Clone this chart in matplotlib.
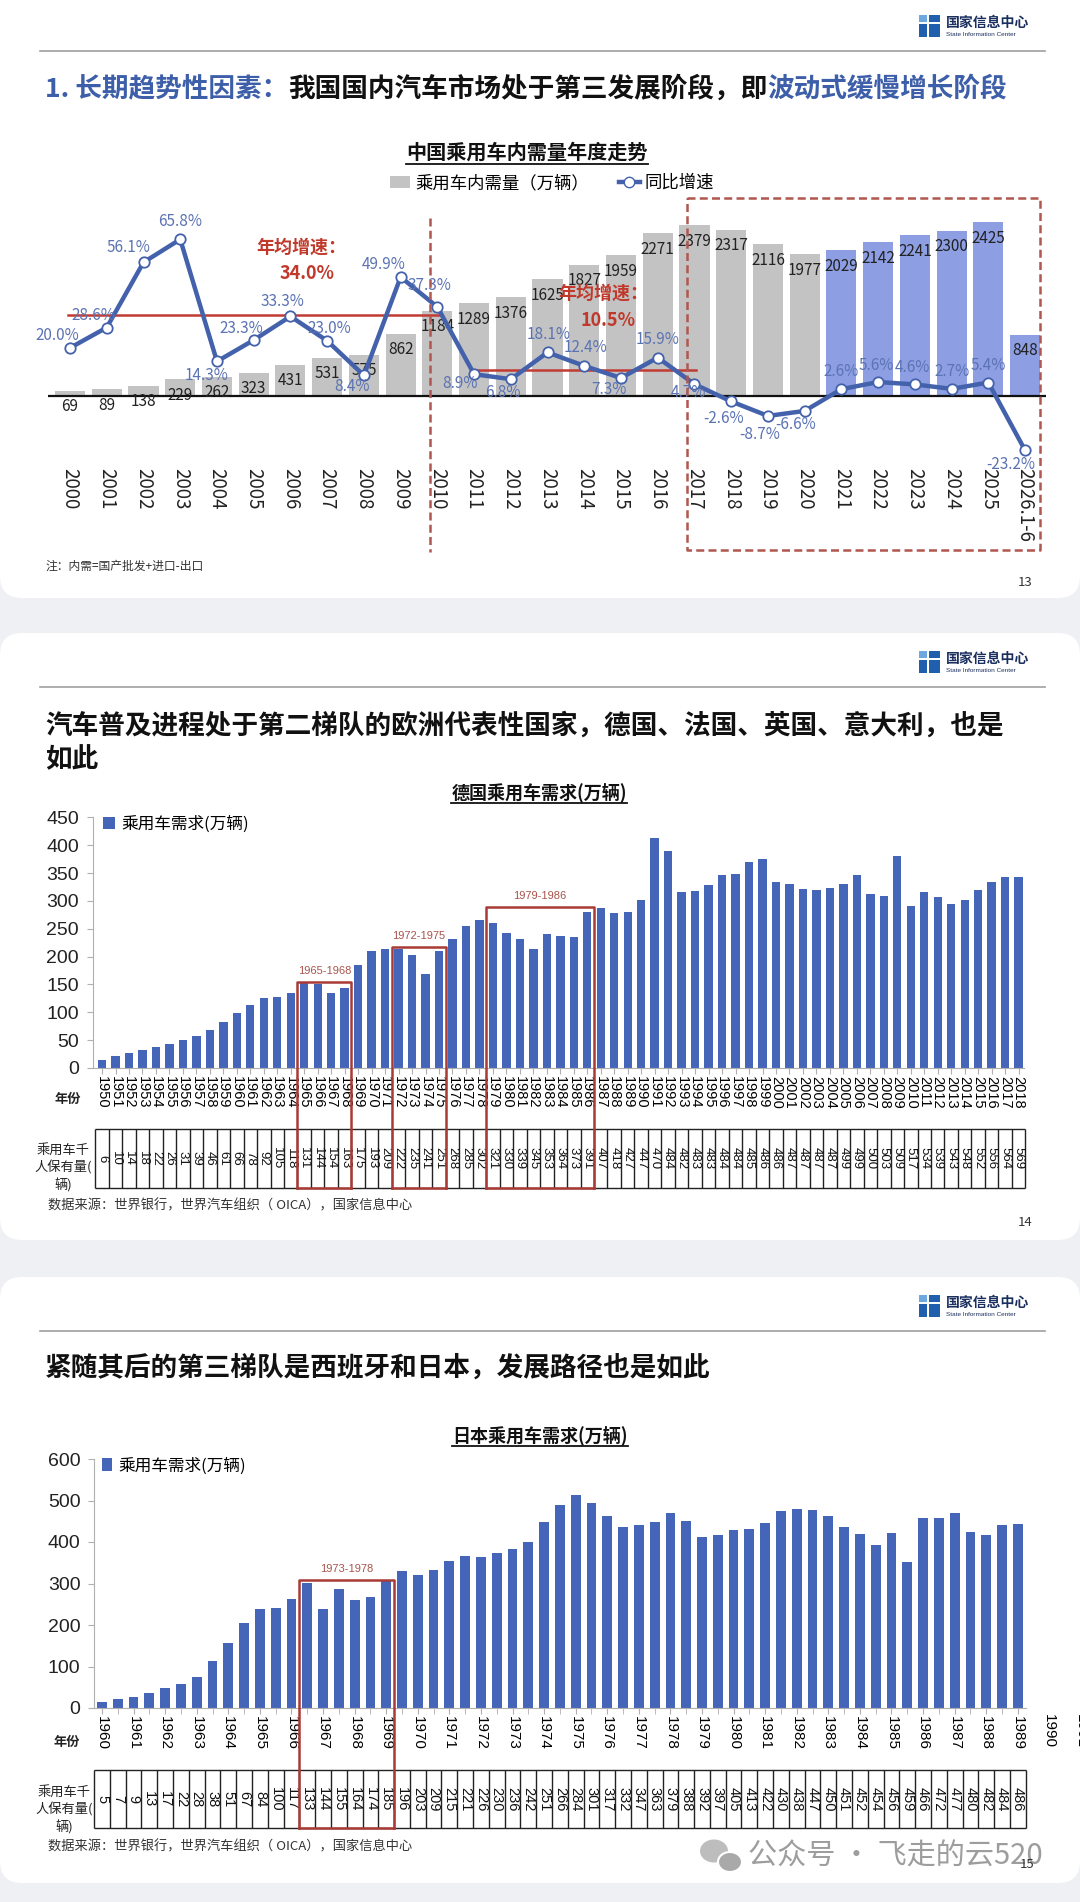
import matplotlib
matplotlib.use("Agg")
import matplotlib.pyplot as plt
from matplotlib.patches import FancyBboxPatch, Rectangle, Ellipse, Patch
from matplotlib.lines import Line2D
import numpy as np

plt.rcParams['font.family'] = ['Noto Sans CJK SC', 'DejaVu Sans']
plt.rcParams['axes.unicode_minus'] = False

# ---------------- data: China ----------------
cn_years = ['2000', '2001', '2002', '2003', '2004', '2005', '2006', '2007', '2008', '2009',
            '2010', '2011', '2012', '2013', '2014', '2015', '2016', '2017', '2018', '2019',
            '2020', '2021', '2022', '2023', '2024', '2025', '2026.1-6']
cn_demand = [69, 89, 138, 229, 262, 323, 431, 531, 575, 862, 1184, 1289, 1376, 1625, 1827,
             1959, 2271, 2379, 2317, 2116, 1977, 2029, 2142, 2241, 2300, 2425, 848]
cn_growth = [20.0, 28.6, 56.1, 65.8, 14.3, 23.3, 33.3, 23.0, 8.4, 49.9, 37.3, 8.9, 6.8, 18.1,
             12.4, 7.3, 15.9, 4.7, -2.6, -8.7, -6.6, 2.6, 5.6, 4.6, 2.7, 5.4, -23.2]
cn_first_blue = '2021'
cn_avg = [34.0, 10.5]
cn_avg_spans = [('2000', '2010'), ('2011', '2017')]

# ---------------- data: Germany ----------------
de_years = [str(y) for y in range(1950, 2019)]
de_demand = [15, 22, 27, 32, 38, 43, 51, 57, 69, 83, 98, 113, 125, 128, 135, 153, 150, 135, 143,
             184, 210, 214, 213, 202, 169, 210, 231, 255, 265, 261, 242, 231, 213, 240, 237, 235, 280,
             288, 278, 280, 301, 412, 389, 316, 317, 328, 346, 349, 370, 376, 334, 330, 322, 320,
             323, 331, 346, 313, 308, 380, 291, 316, 307, 294, 302, 320, 334, 343, 343]
de_per1000 = [6, 10, 14, 18, 22, 26, 31, 39, 46, 61, 66, 78, 92, 105, 118,
              131, 144, 154, 163, 175, 193, 209, 222, 235, 241, 251, 268, 285, 302,
              321, 330, 339, 345, 353, 364, 373, 391,
              407, 418, 427, 447, 470, 484, 482, 483, 483, 484, 484, 485, 486, 486, 487, 487,
              487, 487, 499, 499, 500, 503, 509, 517, 534, 539, 543, 548, 552, 556, 564, 569]
de_boxes = [('1965', '1968'), ('1972', '1975'), ('1979', '1986')]

# ---------------- data: Japan ----------------
jp_years = [str(y) for y in range(1960, 2019)]
jp_demand = [14, 22, 26, 36, 49, 59, 74, 113, 157, 205, 239, 242, 263, 302, 238, 287, 260, 268,
             307, 331, 320, 333, 354, 366, 365, 373, 384, 401, 447, 488, 513, 493, 463, 435, 441,
             447, 469, 451, 412, 418, 428, 431, 446, 474, 480, 477, 463, 435, 420, 393, 422, 353,
             459, 459, 471, 424, 417, 441, 443]
jp_per1000 = [5, 7, 9, 13, 17, 22, 28, 38, 51, 67, 84, 100, 117, 133, 144, 155, 164, 174, 185,
              196, 203, 209, 215, 221, 226, 230, 236, 242, 251, 266, 284, 301, 317, 332, 347, 363,
              379, 388, 392, 397, 405, 413, 422, 430, 438, 447, 450, 451, 452, 454, 456, 459, 466,
              472, 477, 480, 482, 484, 486]
jp_tick_labels = [str(y) for y in range(1960, 1992)]
jp_boxes = [('1973', '1978')]

# ---------------- layout helpers (pixel coordinates) ----------------
W, H = 1080, 1902
BLUE_T = '#3d5ea8'
RED = '#c0392b'
BOX_RED = '#a93a35'
BAR_BLUE = '#4565b9'
LINE_C = '#4462ab'
NUM_FONT = ['Liberation Sans', 'DejaVu Sans']
NARROW_FONT = ['Liberation Sans Narrow', 'Liberation Sans', 'DejaVu Sans']

fig = plt.figure(figsize=(W / 100, H / 100), dpi=100)
fig.patch.set_facecolor('#eef0f3')
rend = fig.canvas.get_renderer()

bg = fig.add_axes([0, 0, 1, 1])
bg.set_xlim(0, W)
bg.set_ylim(H, 0)
bg.axis('off')


def rect(x0, y0, x1, y1):
    return [x0 / W, 1 - y1 / H, (x1 - x0) / W, (y1 - y0) / H]


def xpx(ax, v):
    return ax.transData.transform((v, 0))[0]


def underline(t):
    bb = t.get_window_extent(renderer=rend)
    y = H - bb.y0 + 1
    bg.plot([bb.x0, bb.x1], [y, y], color='#111', lw=1.3)


def header(line_y):
    ty = line_y - 25
    b = '#1f5fae'
    bg.add_patch(Rectangle((919, ty - 11), 8, 7, fc='#6fa8e0', ec='none'))
    bg.add_patch(Rectangle((929, ty - 11), 11, 7, fc=b, ec='none'))
    bg.add_patch(Rectangle((919, ty - 2), 8, 13, fc=b, ec='none'))
    bg.add_patch(Rectangle((929, ty - 2), 11, 13, fc=b, ec='none'))
    bg.text(946, ty - 3, '国家信息中心', fontsize=10, fontweight='bold', color='#1b2f5e',
            va='center', ha='left')
    bg.text(946, ty + 9, 'State Information Center', fontsize=4.6, color='#1b2f5e',
            va='center', ha='left', family=NUM_FONT)
    bg.plot([40, 1045], [line_y, line_y], color='#a0a0a0', lw=1.2)


def seq_text(x, y, parts, size):
    for s, c in parts:
        t = bg.text(x, y, s, color=c, fontsize=size, fontweight='bold', va='center', ha='left')
        x = t.get_window_extent(renderer=rend).x1


# cards
for top, bot in [(-40, 598), (633, 1240), (1277, 1883)]:
    bg.add_patch(FancyBboxPatch((0, top), W, bot - top, boxstyle='round,pad=0,rounding_size=22',
                                fc='white', ec='none'))

# ======================= panel 1 : China =======================
header(51)
seq_text(45, 89, [('1. 长期趋势性因素：', BLUE_T), ('我国国内汽车市场处于第三发展阶段，即', '#111'),
                  ('波动式缓慢增长阶段', BLUE_T)], 19.2)
t = bg.text(527, 152, '中国乘用车内需量年度走势', fontsize=14.5, fontweight='bold', ha='center',
            va='center', color='#111')
underline(t)

ax1 = fig.add_axes(rect(48, 180, 1046, 458))
ax1.patch.set_alpha(0)
x = np.arange(len(cn_years))
blue_from = cn_years.index(cn_first_blue)
colors = ['#c3c3c3' if i < blue_from else '#8d9ee3' for i in x]
bars = ax1.bar(x, cn_demand, width=0.82, color=colors, zorder=2)
ax1.set_xlim(-0.6, 26.57)
ax1.set_ylim(-(458 - 395.7) / 0.0716, (395.7 - 180) / 0.0716)
ax1.axhline(0, color='#111', lw=1.6, zorder=3)
for i, v in enumerate(cn_demand):
    ax1.annotate(str(v), (i, v), xytext=(0, -11.5), textcoords='offset points', ha='center',
                 va='center', fontsize=11, color='#222', zorder=4)
ax1.set_xticks(x)
ax1.set_xticklabels(cn_years, rotation=-90, fontsize=13.5, va='top', color='#222')
ax1.tick_params(axis='x', length=0, pad=7)

ax1b = ax1.twinx()
ax1b.set_ylim(-(458 - 395.3) / 2.37, (395.3 - 180) / 2.37)
for a in (ax1, ax1b):
    for s in a.spines.values():
        s.set_visible(False)
    a.set_yticks([])

for v, (a, b) in zip(cn_avg, cn_avg_spans):
    i0, i1 = cn_years.index(a), cn_years.index(b)
    ax1b.plot([i0 - 0.05, i1 + 0.05], [v, v], color='#c23b32', lw=1.8, zorder=3)

ax1b.plot(x, cn_growth, color=LINE_C, lw=3.2, marker='o', ms=7.5, mfc='white', mec=LINE_C,
          mew=1.3, zorder=5)
gr_off = [(-13, 12), (-13, 12), (-15, 15), (0, 18), (-10, -14), (-12, 12), (-8, 15), (2, 12),
          (-12, -11), (-17, 13), (-8, 21), (-14, -9), (-8, -13), (1, 18), (1, 18), (-12, -12),
          (0, 18), (-6, -8), (-8, -17), (-8, -19), (-9, -14), (0, 18), (-2, 17), (-2, 17),
          (0, 17), (0, 17), (-14, -14)]
for i, v in enumerate(cn_growth):
    dx, dy = gr_off[i]
    ax1b.annotate(f'{v:.1f}%', (i, v), xytext=(dx * 0.72, dy * 0.72), textcoords='offset points',
                  ha='center', va='center', fontsize=11, color='#5b73b3', zorder=6)

ax1.legend([Patch(facecolor='#c3c3c3'),
            Line2D([], [], color=LINE_C, lw=3.2, marker='o', ms=7.5, mfc='white', mec=LINE_C)],
           ['乘用车内需量（万辆）', '同比增速'], loc='center', ncol=2,
           bbox_to_anchor=(552 / W, 1 - 183 / H), bbox_transform=fig.transFigure, frameon=False,
           fontsize=12.5, columnspacing=1.7, handletextpad=0.3, handlelength=1.2,
           handleheight=0.7, borderpad=0)

bg.text(45, 566, '注：内需=国产批发+进口-出口', fontsize=8.5, color='#333', va='center')
bg.text(1025, 583, '13', fontsize=9.5, color='#333', va='center', ha='center')

# ======================= panel 2 : Germany =======================
header(687)
bg.text(45, 726, '汽车普及进程处于第二梯队的欧洲代表性国家，德国、法国、英国、意大利，也是',
        fontsize=19.2, fontweight='bold', color='#111', va='center')
bg.text(45, 760, '如此', fontsize=19.2, fontweight='bold', color='#111', va='center')
t = bg.text(539, 792, '德国乘用车需求(万辆)', fontsize=13, fontweight='bold', ha='center',
            va='center', color='#111')
underline(t)


def style_bar_axes(ax, ytick_size, yfont):
    ax.patch.set_alpha(0)
    for s in ('top', 'right'):
        ax.spines[s].set_visible(False)
    for s in ('left', 'bottom'):
        ax.spines[s].set_color('#b0b0b0')
    ax.tick_params(axis='y', length=4, color='#b0b0b0', pad=6, labelsize=ytick_size,
                   labelcolor='#222')
    ax.tick_params(axis='x', which='both', length=4, color='#b0b0b0', pad=2)
    for lbl in ax.get_yticklabels():
        lbl.set_family(yfont)


def draw_table(rect_px, xlim, values, size):
    tax = fig.add_axes(rect(*rect_px))
    tax.set_xlim(*xlim)
    tax.set_ylim(0, 1)
    tax.axis('off')
    n = len(values)
    tax.vlines(np.arange(n + 1) - 0.5, 0, 1, color='#222', lw=1.0, clip_on=False)
    tax.hlines([0, 1], -0.5, n - 0.5, color='#222', lw=1.0, clip_on=False)
    for i, v in enumerate(values):
        tax.text(i, 0.5, str(v), rotation=-90, ha='center', va='center', fontsize=size,
                 color='#111', family=NUM_FONT)


ax2 = fig.add_axes(rect(93, 817.3, 1023.6, 1068))
xd = np.arange(len(de_years))
b2 = ax2.bar(xd, de_demand, width=0.62, color=BAR_BLUE)
ax2.set_xlim(-0.67, 68.37)
ax2.set_ylim(0, 450)
ax2.set_yticks(range(0, 451, 50))
ax2.set_xticks(xd)
ax2.set_xticklabels(de_years, rotation=-90, fontsize=10.5, va='top', family=NUM_FONT)
style_bar_axes(ax2, 14, NUM_FONT)
ax2.legend([b2], ['乘用车需求(万辆)'], loc='center left', bbox_to_anchor=(103 / W, 1 - 824 / H),
           bbox_transform=fig.transFigure, frameon=False, fontsize=12, handlelength=0.7,
           handleheight=0.7, handletextpad=0.4, borderpad=0, borderaxespad=0)
draw_table((93, 1129, 1023.6, 1188), (-0.67, 68.37), de_per1000, 9.5)
bg.text(67.5, 1099, '年份', fontsize=9.5, fontweight='bold', color='#222', ha='center', va='center')
bg.text(63.5, 1168, '乘用车千\n人保有量(\n辆)', fontsize=9.5, color='#222', ha='center',
        va='center', multialignment='center', linespacing=1.35)
bg.text(48, 1206, '数据来源：世界银行，世界汽车组织（ OICA），国家信息中心', fontsize=9.5,
        color='#333', va='center')
bg.text(1025, 1223, '14', fontsize=9.5, color='#333', va='center', ha='center')

# ======================= panel 3 : Japan =======================
header(1331)
bg.text(45, 1368, '紧随其后的第三梯队是西班牙和日本，发展路径也是如此', fontsize=19.2,
        fontweight='bold', color='#111', va='center')
t = bg.text(540, 1435, '日本乘用车需求(万辆)', fontsize=13, fontweight='bold', ha='center',
            va='center', color='#111')
underline(t)

ax3 = fig.add_axes(rect(94.4, 1459, 1026, 1708))
xj = np.arange(len(jp_years))
b3 = ax3.bar(xj, jp_demand, width=0.62, color=BAR_BLUE)
ax3.set_xlim(-0.48, 58.52)
ax3.set_ylim(0, 600)
ax3.set_yticks(range(0, 601, 100))
n_major = len(xj[::2])
ax3.set_xticks(xj[::2])
ax3.set_xticklabels(jp_tick_labels[:n_major], rotation=-90, fontsize=11, va='top',
                    family=NUM_FONT)
ax3.set_xticks(xj, minor=True)
style_bar_axes(ax3, 14, NARROW_FONT)
for k, lbl in enumerate(jp_tick_labels[n_major:]):
    ax3.annotate(lbl, (2 * (n_major + k), 0), xycoords=('data', 'axes fraction'),
                 xytext=(0, -4.4), textcoords='offset points', rotation=-90, ha='center',
                 va='top', fontsize=11, family=NUM_FONT, annotation_clip=False)
ax3.legend([b3], ['乘用车需求(万辆)'], loc='center left', bbox_to_anchor=(102 / W, 1 - 1466 / H),
           bbox_transform=fig.transFigure, frameon=False, fontsize=12, handlelength=0.6,
           handleheight=0.8, handletextpad=0.4, borderpad=0, borderaxespad=0)
draw_table((94.4, 1770, 1026, 1828), (-0.48, 58.52), jp_per1000, 10.5)
bg.text(67, 1742, '年份', fontsize=9.5, fontweight='bold', color='#222', ha='center', va='center')
bg.text(64, 1810, '乘用车千\n人保有量(\n辆)', fontsize=9.5, color='#222', ha='center',
        va='center', multialignment='center', linespacing=1.35)
bg.text(48, 1847, '数据来源：世界银行，世界汽车组织（ OICA），国家信息中心', fontsize=9.5,
        color='#333', va='center')

# watermark
bg.add_patch(Ellipse((714, 1851), 28, 23, fc='#bdbdbd', ec='none'))
bg.add_patch(Ellipse((730, 1862), 24, 20, fc='#a9a9a9', ec='white', lw=1.5))
bg.text(748, 1857, '公众号 · 飞走的云520', fontsize=21, color='#9d9d9d', va='center', ha='left')

# ======================= overlay : red marks =======================
ov = fig.add_axes([0, 0, 1, 1])
ov.set_xlim(0, W)
ov.set_ylim(H, 0)
ov.axis('off')

dash = (0, (3.2, 1.7))
xv = xpx(ax1, cn_years.index('2010') - 0.2)
ov.plot([xv, xv], [218, 552], color='#b0574f', lw=1.8, ls=dash)
xl = xpx(ax1, cn_years.index('2017') - 0.19)
ov.plot([xl, 1040, 1040, xl, xl], [198, 198, 550, 550, 198], color='#b0574f', lw=1.8, ls=dash)

ov.text(301.7, 246.7, '年均增速：', fontsize=13, fontweight='bold', color=RED, ha='center',
        va='center')
ov.text(306.7, 273.3, f'{cn_avg[0]:.1f}%', fontsize=13, fontweight='bold', color=RED,
        ha='center', va='center')
ov.text(603, 293.3, '年均增速：', fontsize=13, fontweight='bold', color=RED, ha='center',
        va='center')
ov.text(608, 320, f'{cn_avg[1]:.1f}%', fontsize=13, fontweight='bold', color=RED, ha='center',
        va='center')


def red_box(ax, years, a, b, top_px, bottom_px):
    x0 = xpx(ax, years.index(a) - 0.5)
    x1 = xpx(ax, years.index(b) + 0.5)
    ov.plot([x0, x0, x1, x1], [bottom_px, top_px, top_px, bottom_px], color=BOX_RED, lw=1.8)
    ov.plot([x0, x1], [bottom_px, bottom_px], color=BOX_RED, lw=1.8)
    ov.text((x0 + x1) / 2, top_px - 11, f'{a}-{b}', fontsize=8, color='#a9544d', ha='center',
            va='center', family=NUM_FONT)


for (a, b), top in zip(de_boxes, [982, 947, 907]):
    red_box(ax2, de_years, a, b, top, 1188)
for (a, b), top in zip(jp_boxes, [1580]):
    red_box(ax3, jp_years, a, b, top, 1828)

ov.text(1027, 1865, '15', fontsize=9.5, color='#333', va='center', ha='center')

fig.savefig('out.png', dpi=100, facecolor=fig.get_facecolor())
